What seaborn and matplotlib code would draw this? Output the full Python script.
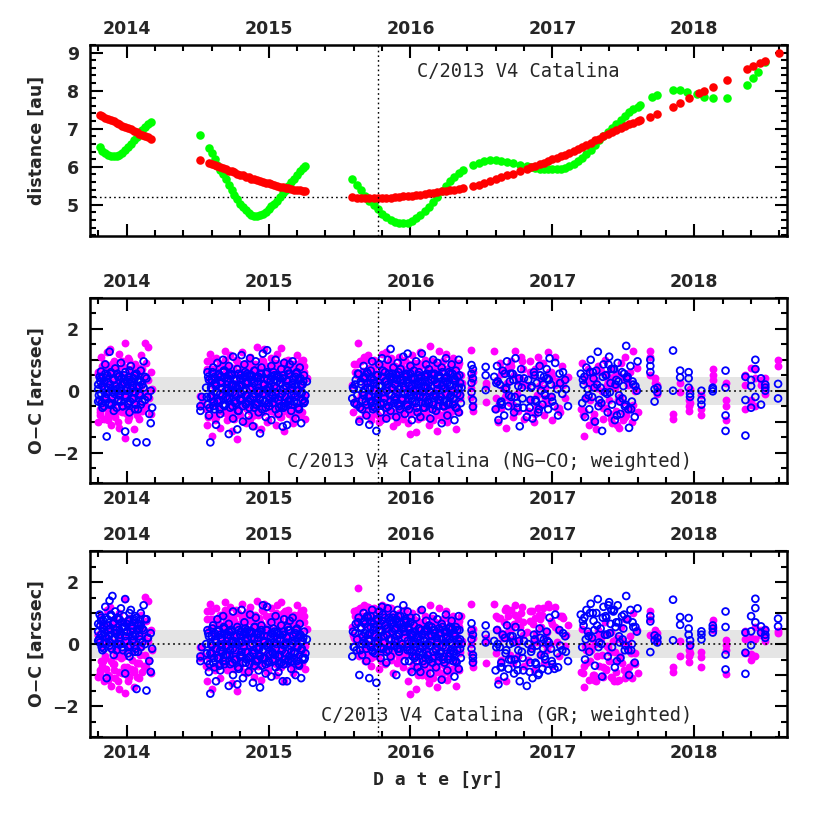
import matplotlib
matplotlib.use("Agg")
import matplotlib.pyplot as plt
from matplotlib.ticker import FixedLocator, MultipleLocator, FuncFormatter
import pandas as pd
import seaborn as sns

# ---------------- distance panel ----------------
# epochs shared by both distance curves (dense parts)
dist_t = [
    2013.81, 2013.83, 2013.85, 2013.87, 2013.89, 2013.91, 2013.93, 2013.95, 2013.97, 2013.99,
    2014.01, 2014.03, 2014.05, 2014.07, 2014.09, 2014.11, 2014.13, 2014.15, 2014.17,
    2014.52,
    2014.58, 2014.60, 2014.62, 2014.64, 2014.66, 2014.68, 2014.70, 2014.72, 2014.74, 2014.76,
    2014.78, 2014.80, 2014.82, 2014.84, 2014.86, 2014.88, 2014.90, 2014.92, 2014.94, 2014.96,
    2014.98, 2015.00, 2015.02, 2015.04, 2015.06, 2015.08, 2015.10, 2015.12, 2015.14, 2015.16,
    2015.18, 2015.20, 2015.22, 2015.24, 2015.26,
    2015.59, 2015.62, 2015.65, 2015.68, 2015.71, 2015.74, 2015.77, 2015.80, 2015.83, 2015.86,
    2015.89, 2015.92, 2015.95, 2015.98, 2016.01, 2016.04, 2016.07, 2016.10, 2016.13, 2016.16,
    2016.19, 2016.22, 2016.25, 2016.28, 2016.31, 2016.34, 2016.37,
    2016.44, 2016.48, 2016.52, 2016.56, 2016.60, 2016.64, 2016.68, 2016.72, 2016.77,
    2016.82, 2016.85, 2016.88, 2016.91, 2016.94, 2016.97, 2017.00, 2017.03, 2017.06, 2017.09,
    2017.12, 2017.15, 2017.18, 2017.21, 2017.24, 2017.27, 2017.30, 2017.33, 2017.36, 2017.39,
    2017.42, 2017.45, 2017.48, 2017.51, 2017.54, 2017.57, 2017.60, 2017.62,
]
# geocentric distance (green)
geo_d = [
    6.51, 6.42, 6.36, 6.32, 6.29, 6.28, 6.29, 6.32, 6.37, 6.44,
    6.52, 6.60, 6.69, 6.78, 6.88, 6.97, 7.05, 7.12, 7.18,
    6.83,
    6.48, 6.35, 6.20, 6.05, 5.92, 5.80, 5.68, 5.53, 5.40, 5.27,
    5.14, 5.03, 4.93, 4.85, 4.78, 4.73, 4.70, 4.70, 4.72, 4.76,
    4.82, 4.89, 4.96, 5.02, 5.10, 5.20, 5.30, 5.39, 5.49, 5.59,
    5.69, 5.79, 5.88, 5.96, 6.03,
    5.67, 5.52, 5.38, 5.24, 5.11, 4.99, 4.88, 4.77, 4.68, 4.60,
    4.55, 4.52, 4.51, 4.53, 4.58, 4.65, 4.74, 4.84, 4.95, 5.07,
    5.20, 5.36, 5.50, 5.62, 5.73, 5.83, 5.91,
    6.04, 6.11, 6.15, 6.17, 6.18, 6.16, 6.13, 6.10, 6.05,
    6.01, 5.98, 5.96, 5.94, 5.93, 5.93, 5.93, 5.93, 5.95, 5.97,
    6.02, 6.08, 6.16, 6.24, 6.34, 6.45, 6.57, 6.69, 6.80, 6.92,
    7.03, 7.13, 7.24, 7.34, 7.43, 7.51, 7.58, 7.62,
]
# heliocentric distance (red)
helio_r = [
    7.36, 7.33, 7.29, 7.26, 7.22, 7.19, 7.15, 7.12, 7.08, 7.05,
    7.01, 6.98, 6.94, 6.91, 6.87, 6.84, 6.80, 6.77, 6.73,
    6.18,
    6.09, 6.07, 6.04, 6.01, 5.98, 5.96, 5.93, 5.90, 5.88, 5.85,
    5.82, 5.79, 5.77, 5.74, 5.72, 5.69, 5.67, 5.65, 5.63, 5.60,
    5.58, 5.56, 5.54, 5.52, 5.50, 5.48, 5.47, 5.45, 5.43, 5.42,
    5.40, 5.39, 5.38, 5.37, 5.36,
    5.20, 5.19, 5.19, 5.18, 5.18, 5.18, 5.18, 5.18, 5.19, 5.19,
    5.20, 5.21, 5.22, 5.23, 5.24, 5.25, 5.27, 5.28, 5.30, 5.31,
    5.33, 5.35, 5.36, 5.38, 5.40, 5.42, 5.44,
    5.49, 5.53, 5.58, 5.63, 5.67, 5.72, 5.77, 5.82, 5.88,
    5.95, 5.99, 6.02, 6.06, 6.10, 6.14, 6.19, 6.23, 6.27, 6.32,
    6.36, 6.42, 6.47, 6.52, 6.57, 6.63, 6.69, 6.74, 6.80, 6.86,
    6.91, 6.96, 7.01, 7.06, 7.11, 7.16, 7.20, 7.23,
]
# sparse late points
geo_t_late = [2017.70, 2017.74, 2017.85, 2017.90, 2017.95, 2018.02, 2018.07, 2018.13,
              2018.23, 2018.37, 2018.41, 2018.45, 2018.50]
geo_d_late = [7.84, 7.89, 8.02, 8.01, 7.96, 7.91, 7.84, 7.80, 7.80, 8.15, 8.32, 8.50, 8.76]
helio_t_late = [2017.69, 2017.74, 2017.85, 2017.90, 2017.96, 2018.03, 2018.07, 2018.13,
                2018.23, 2018.37, 2018.41, 2018.46, 2018.50, 2018.60]
helio_r_late = [7.30, 7.38, 7.58, 7.68, 7.80, 7.93, 8.00, 8.10, 8.28, 8.56, 8.65, 8.72,
                8.79, 9.00]

# ---------------- O-C residuals, same epochs for both fits ----------------
obs_t = [
    # 2013/14
    2013.80, 2013.80, 2013.81, 2013.82, 2013.82, 2013.83, 2013.84, 2013.85, 2013.85, 2013.86,
    2013.87, 2013.88, 2013.88, 2013.89, 2013.90, 2013.91, 2013.91, 2013.92, 2013.93, 2013.94,
    2013.95, 2013.95, 2013.96, 2013.97, 2013.98, 2013.99, 2013.99, 2014.00, 2014.01, 2014.02,
    2014.02, 2014.03, 2014.04, 2014.05, 2014.06, 2014.06, 2014.07, 2014.08, 2014.09, 2014.10,
    2014.10, 2014.11, 2014.12, 2014.13, 2014.14, 2014.14, 2014.15, 2014.16, 2014.17, 2014.18,
    # 2014/15
    2014.52, 2014.52, 2014.53,
    2014.56, 2014.57, 2014.57, 2014.58, 2014.59, 2014.60, 2014.60, 2014.61, 2014.62, 2014.63,
    2014.63, 2014.64, 2014.65, 2014.66, 2014.66, 2014.67, 2014.68, 2014.69, 2014.69, 2014.70,
    2014.71, 2014.72, 2014.72, 2014.73, 2014.74, 2014.75, 2014.75, 2014.76, 2014.77, 2014.78,
    2014.78, 2014.79, 2014.80, 2014.81, 2014.81, 2014.82, 2014.83, 2014.84, 2014.84, 2014.85,
    2014.86, 2014.87, 2014.87, 2014.88, 2014.89, 2014.90, 2014.90, 2014.91, 2014.92, 2014.93,
    2014.93, 2014.94, 2014.95, 2014.96, 2014.96, 2014.97, 2014.98, 2014.99, 2014.99, 2015.00,
    2015.01, 2015.02, 2015.02, 2015.03, 2015.04, 2015.05, 2015.05, 2015.06, 2015.07, 2015.08,
    2015.08, 2015.09, 2015.10, 2015.11, 2015.11, 2015.12, 2015.13, 2015.14, 2015.14, 2015.15,
    2015.16, 2015.17, 2015.17, 2015.18, 2015.19, 2015.20, 2015.20, 2015.21, 2015.22, 2015.23,
    2015.23, 2015.24, 2015.25, 2015.26, 2015.27,
    # 2015/16
    2015.59, 2015.60, 2015.61, 2015.62, 2015.63, 2015.64, 2015.65, 2015.66, 2015.67, 2015.67,
    2015.68, 2015.69, 2015.70, 2015.71, 2015.72, 2015.72, 2015.73, 2015.74, 2015.75, 2015.76,
    2015.77, 2015.77, 2015.78, 2015.79, 2015.80, 2015.80, 2015.81, 2015.82, 2015.83, 2015.83,
    2015.84, 2015.85, 2015.86, 2015.86, 2015.87, 2015.88, 2015.89, 2015.89, 2015.90, 2015.91,
    2015.92, 2015.92, 2015.93, 2015.94, 2015.95, 2015.95, 2015.96, 2015.97, 2015.98, 2015.98,
    2015.99, 2016.00, 2016.01, 2016.01, 2016.02, 2016.03, 2016.04, 2016.04, 2016.05, 2016.06,
    2016.07, 2016.07, 2016.08, 2016.09, 2016.10, 2016.10, 2016.11, 2016.12, 2016.13, 2016.13,
    2016.14, 2016.15, 2016.16, 2016.16, 2016.17, 2016.18, 2016.19, 2016.19, 2016.20, 2016.21,
    2016.22, 2016.22, 2016.23, 2016.24, 2016.25, 2016.25, 2016.26, 2016.27, 2016.28, 2016.28,
    2016.29, 2016.30, 2016.31, 2016.31, 2016.32, 2016.33, 2016.34, 2016.34, 2016.35, 2016.36,
    # mid 2016
    2016.43, 2016.43, 2016.43, 2016.43, 2016.44, 2016.44, 2016.44, 2016.44,
    2016.53, 2016.53, 2016.53,
    2016.59, 2016.60, 2016.61, 2016.62, 2016.63, 2016.64, 2016.65, 2016.66, 2016.67, 2016.68,
    2016.69, 2016.70, 2016.71, 2016.72, 2016.73, 2016.74, 2016.75, 2016.76, 2016.77, 2016.78,
    2016.79, 2016.80,
    2016.82, 2016.83, 2016.84, 2016.85, 2016.86, 2016.87, 2016.88, 2016.89, 2016.90, 2016.91,
    2016.92, 2016.93, 2016.94, 2016.95, 2016.96, 2016.97, 2016.98, 2016.99, 2017.00, 2017.02,
    2017.04, 2017.05, 2017.07, 2017.09, 2017.11,
    # 2017
    2017.20, 2017.21, 2017.22, 2017.23, 2017.24, 2017.25, 2017.26, 2017.27, 2017.28, 2017.29,
    2017.30, 2017.31, 2017.32, 2017.33, 2017.34, 2017.35, 2017.36, 2017.37, 2017.38, 2017.39,
    2017.40, 2017.41, 2017.42, 2017.43, 2017.44, 2017.45, 2017.46, 2017.47, 2017.48, 2017.49,
    2017.50, 2017.51, 2017.52, 2017.53, 2017.54, 2017.55, 2017.56, 2017.57, 2017.58, 2017.60,
    # late, sparse
    2017.69, 2017.69, 2017.69, 2017.72, 2017.72, 2017.74, 2017.74, 2017.85, 2017.85,
    2017.90, 2017.90, 2017.96, 2017.96, 2017.96, 2017.97, 2017.97,
    2018.05, 2018.05, 2018.05, 2018.13, 2018.13, 2018.13, 2018.22, 2018.22, 2018.22, 2018.22,
    2018.36, 2018.36, 2018.36, 2018.40, 2018.40, 2018.40, 2018.43, 2018.43, 2018.43,
    2018.47, 2018.47, 2018.50, 2018.50, 2018.50, 2018.59, 2018.59,
]

# NG-CO solution: magenta = RA residuals, blue = Dec residuals
ng_ra = [
    -1.00, 0.55, -0.60, 1.10, -0.30, 0.80, -0.90, 0.40, -0.20, 1.25,
    -0.75, 0.15, 1.35, -1.10, 0.65, -0.40, 0.95, -0.85, 0.30, -0.05,
    1.20, -1.20, 0.50, -0.70, -0.15, -1.54, 1.55, 0.25, -0.95, 0.70,
    1.00, -0.55, 0.35, -1.25, 0.85, 0.10, -0.80, 0.60, -0.35, 1.15,
    0.20, -0.65, 0.45, 1.55, -0.50, 0.90, 1.42, -0.25, 0.60, 0.05,
    -0.17, -0.50, -0.40,
    -0.60, 0.95, -1.10, 0.40, 1.20, -0.30, -1.48, 0.70, 0.15, -0.85,
    1.05, -0.45, 0.55, -1.20, 0.25, 0.85, -0.70, 1.30, -0.10, 0.60,
    -0.95, 0.35, -0.40, 1.15, -1.30, 0.10, 0.75, -0.65, 1.00, -0.20,
    -1.57, 0.50, -0.80, 0.20, 1.25, -0.35, 0.65, -1.05, 0.90, -0.55,
    0.30, -0.90, 1.10, -0.25, 0.80, -1.15, 0.45, -0.60, 1.42, 0.05,
    -0.75, 0.60, -1.25, 0.95, -0.05, 1.35, -0.45, 0.25, -1.00, 0.70,
    0.40, -0.65, 1.05, -0.30, 0.80, -1.10, 0.15, 1.20, -0.50, 0.55,
    -0.85, 1.37, -0.20, 0.45, -1.30, 0.90, -0.40, 0.10, 1.00, -0.70,
    0.65, -1.05, 0.30, 0.85, -0.55, 1.15, -0.15, 0.50, -0.80, 0.20,
    0.95, -0.35, 0.60, -0.90, 0.40,
    0.20, -0.35, 0.60, 0.85, 1.55, -0.50, 0.95, -0.20, 0.35, 1.10,
    -0.75, 0.50, 1.15, -0.30, 0.70, -0.95, 0.25, 1.00, -0.60, 0.40,
    -0.10, 0.90, -1.00, 0.55, 1.20, -0.45, 0.30, -0.85, 0.75, 1.25,
    -0.25, 0.65, -0.70, 1.05, 0.10, -1.15, 0.80, -0.40, 0.45, -0.05,
    1.10, -0.65, 0.35, 0.95, -0.90, 0.20, -0.35, 0.70, -1.05, 0.55,
    0.85, -1.40, 0.30, 1.15, -0.55, 0.60, -0.20, -1.35, 0.90, -0.75,
    0.45, 1.25, -0.85, 0.15, -0.45, 1.00, -0.15, 0.65, -1.10, 0.30,
    1.45, -0.60, 0.50, -0.95, 0.85, 0.05, -1.30, 0.70, 1.30, -0.35,
    0.20, -0.80, 0.95, 0.40, -0.50, 1.20, -1.00, 0.55, -0.25, 0.80,
    -0.65, 1.05, -0.40, 0.60, -1.25, 0.35, -0.70, 0.90, -0.10, 0.25,
    1.31, 0.10, -0.20, 0.45, 0.30, -0.45, 0.60, -0.65,
    0.25, -0.38, 0.15,
    1.30, -0.25, 0.35, -1.00, 0.90, -0.55, 0.10, 0.60, -1.20, 0.25,
    0.75, -0.40, 0.95, -0.85, 0.50, 1.30, -0.10, -0.65, 0.40, 1.10,
    0.20, -0.90,
    0.20, -0.65, 0.95, -0.30, 0.50, -1.00, 0.70, -0.15, 1.10, -0.50,
    0.35, 0.85, -0.80, 0.10, -0.40, 1.26, -0.20, 0.60, -0.95, 1.10,
    0.30, -0.55, 0.80, -0.25, 0.45,
    -0.60, 0.90, -1.45, 0.30, -0.20, 0.70, -1.10, 0.15, 0.50, -0.75,
    0.35, -1.25, 0.80, -0.40, 0.65, 0.00, -0.90, 1.00, -0.55, 0.25,
    -0.30, 0.75, -1.05, 0.45, 0.10, -0.65, 0.55, -1.20, 0.90, -0.35,
    0.40, 1.10, -0.80, 0.20, -0.50, 0.60, -1.00, 1.30, 0.05, -0.70,
    1.30, 1.10, 0.50, 0.25, 0.40, 0.20, -0.10, -0.75, -0.90,
    0.25, -0.05, -0.50, -0.65, -0.30, 0.05, -0.40,
    -0.80, -0.60, -0.15, 0.70, 0.35, 0.50, -0.50, -0.30, -0.95, 0.25,
    0.50, 0.20, -0.60, -0.30, 0.75, -0.45, 0.70, 0.40, -0.50,
    0.20, 0.35, 0.40, 0.15, -0.10, 1.00, 0.80,
]
ng_dec = [
    0.20, -0.35, 0.45, -0.10, 0.62, -0.55, 0.30, -0.20, 0.85, -1.48,
    0.10, 1.26, -0.45, 0.55, -0.05, 0.38, -0.65, 0.72, 0.05, -0.30,
    0.48, -0.15, 0.90, -0.50, 0.25, -1.32, 0.60, 0.00, -0.40, 0.35,
    -0.70, 0.80, 0.15, -0.25, 0.50, -0.60, -1.67, 0.30, -0.10, 0.65,
    -0.45, 0.20, 0.95, -0.30, -1.67, 0.40, -0.20, -0.75, -1.05, -0.55,
    -0.65, -0.50, -0.20,
    0.10, -0.45, 0.60, -0.80, -1.67, 0.35, -0.15, 0.75, -0.60, 0.20,
    -1.10, 0.90, -0.30, 0.45, -0.75, 0.05, 1.00, -0.50, 0.65, -0.20,
    0.30, -1.40, 0.80, -0.05, 0.50, -0.90, 1.10, -0.35, 0.15, -1.25,
    0.70, -0.65, 0.40, 1.15, -0.10, -1.00, 0.85, 0.25, -0.45, 0.55,
    -0.80, 1.05, -0.25, 0.35, -1.15, 0.65, -0.55, 0.95, 0.00, -0.70,
    0.45, -1.38, 0.75, -0.30, 1.20, 0.20, -0.85, 0.60, 1.31, -0.40,
    0.10, -0.95, 0.80, -0.15, 0.50, -0.60, 1.00, 0.30, -0.75, 0.40,
    -0.20, 0.70, -1.16, 0.90, -0.50, 0.15, -1.11, 0.55, -0.35, 0.85,
    -0.65, 0.25, 0.95, -0.10, -0.90, 0.60, -0.40, 0.35, 0.75, -1.05,
    0.20, -0.30, 0.50, -0.15, 0.30,
    -0.25, 0.05, 0.20, -0.45, 0.55, -1.00, 0.30, -0.60, 0.80, -0.15,
    0.40, -0.80, 0.10, -1.10, 0.65, -0.35, 0.95, 0.25, -0.55, -1.30,
    0.50, -0.20, 0.85, -0.70, 0.15, 1.05, -0.40, 0.60, -0.90, 0.30,
    1.00, -0.10, 1.35, -0.65, 0.45, 0.75, -0.30, 0.20, -0.85, 0.90,
    0.05, -0.50, 0.70, -0.25, 1.10, 0.35, -0.75, 0.55, 1.20, -0.05,
    -0.60, 0.80, 0.15, -0.95, 0.40, -0.35, 0.95, 0.00, -0.70, 0.60,
    0.25, -0.85, 1.20, -0.20, 0.50, -0.55, 0.85, 0.10, -0.40, 0.70,
    -0.90, 0.35, 1.00, -0.15, 0.55, -0.65, 0.20, 0.90, -0.30, 0.45,
    -1.05, 0.75, 0.05, -0.50, 1.05, 0.30, -0.80, 0.60, -0.20, 0.15,
    0.85, -0.45, 0.40, -0.95, 0.65, -0.10, 1.00, -0.70, 0.25, 0.10,
    0.83, 0.55, 0.25, -0.05, 0.70, 0.40, -0.30, -0.52,
    0.77, 0.50, 0.02,
    0.45, -0.60, 0.80, -0.95, 0.20, -0.35, 0.65, -0.80, 0.05, 0.95,
    -0.50, 0.30, -0.20, 0.55, -0.70, 1.05, -0.40, 0.15, -1.15, 0.70,
    -0.25, 0.40,
    -0.85, 0.35, -0.55, 0.10, -0.90, 0.60, -0.30, 0.25, -0.70, 0.80,
    0.00, -0.45, 0.45, -0.15, 0.70, -0.60, 1.05, 0.20, -0.35, 0.90,
    -0.80, 0.55, -0.10, 0.35, -0.50,
    0.55, -0.40, 0.20, -0.85, 0.75, 0.05, -0.60, 1.00, -0.20, 0.40,
    -1.00, 0.65, 1.26, -0.30, 0.10, -1.30, 0.85, -0.05, 0.50, -0.70,
    1.10, 0.25, -0.45, 0.70, -0.95, 0.35, 0.90, -0.15, -0.75, 0.60,
    0.15, -0.50, 1.45, 0.45, -1.20, 0.80, -0.35, 0.20, -0.85, 0.95,
    0.80, 0.60, 1.00, 0.05, -0.35, 0.10, -0.05, 1.30, 0.00,
    0.65, 0.43, 0.60, 0.40, 0.10, -0.20, -0.10,
    0.00, -0.30, -0.45, 0.10, -0.02, 0.05, 0.65, 0.10, -0.80, -1.30,
    0.45, -0.30, -1.45, 0.15, -0.55, 0.35, 1.00, 0.70, -0.20,
    0.40, -0.45, 0.20, 0.00, 0.10, 0.22, -0.25,
]

# GR solution
gr_ra = [
    -1.05, 0.30, -0.85, 0.90, -0.55, 0.65, -1.20, 0.20, -0.45, 1.10,
    -1.00, 0.05, 1.20, -1.35, 0.45, -0.65, 0.80, -1.10, 0.10, -0.30,
    1.00, -1.45, 0.35, -0.95, -0.40, -1.58, 1.45, 0.05, -1.20, 0.50,
    0.85, -0.80, 0.15, -1.40, 0.70, -0.10, -1.05, 0.40, -0.60, 0.95,
    0.00, -0.90, 0.30, 1.52, -0.75, 0.75, 1.38, -0.50, 0.45, -0.20,
    -0.10, -0.45, -0.35,
    -0.70, 1.05, -1.20, 0.50, 1.30, -0.20, -1.45, 0.80, 0.25, -0.75,
    1.15, -0.35, 0.65, -1.10, 0.35, 0.95, -0.60, 1.35, 0.00, 0.70,
    -0.85, 0.45, -0.30, 1.20, -1.25, 0.20, 0.85, -0.55, 1.10, -0.10,
    -1.50, 0.60, -0.70, 0.30, 1.30, -0.25, 0.75, -0.95, 1.00, -0.45,
    0.40, -0.80, 1.20, -0.15, 0.90, -1.05, 0.55, -0.50, 1.40, 0.15,
    -0.65, 0.70, -1.15, 1.05, 0.05, 1.30, -0.35, 0.35, -0.90, 0.80,
    0.50, -0.55, 1.15, -0.20, 0.90, -1.00, 0.25, 1.25, -0.40, 0.65,
    -0.75, 1.35, -0.10, 0.55, -1.20, 1.00, -0.30, 0.20, 1.10, -0.60,
    0.75, -0.95, 0.40, 0.95, -0.45, 1.25, -0.05, 0.60, -0.70, 0.30,
    1.05, -0.25, 0.70, -0.80, 0.50,
    0.55, 0.20, 0.90, 1.10, 1.80, -0.30, 1.15, 0.10, 0.65, 1.25,
    -0.55, 0.80, 1.20, 0.00, 0.95, -0.70, 0.50, 1.15, -0.40, 0.70,
    0.15, 1.05, -0.80, 0.80, 1.25, -0.25, 0.55, -0.65, 0.95, 1.20,
    0.00, 0.85, -0.50, 1.15, 0.30, -0.95, 0.95, -0.20, 0.65, 0.20,
    1.00, -0.45, 0.50, 1.05, -0.75, 0.35, -0.30, 0.60, -1.20, 0.40,
    0.70, -1.60, 0.10, 1.00, -0.70, 0.45, -0.35, -1.45, 0.75, -0.90,
    0.30, 1.10, -1.00, 0.00, -0.60, 0.90, -0.30, 0.50, -1.25, 0.15,
    1.25, -0.75, 0.35, -1.10, 0.70, -0.10, -1.40, 0.55, 1.15, -0.50,
    0.05, -0.95, 0.80, 0.25, -0.65, 1.05, -1.15, 0.40, -0.40, 0.65,
    -0.80, 0.90, -0.55, 0.45, -1.35, 0.20, -0.85, 0.75, -0.25, 0.10,
    1.30, 0.00, -0.30, 0.35, 0.20, -0.55, 0.50, -0.75,
    0.20, -0.60, 0.10,
    1.30, -0.30, 0.50, -1.15, 0.85, -0.50, 0.20, 0.70, -1.20, 0.35,
    0.90, -0.35, 1.10, -0.60, 0.65, 1.25, 0.05, -0.40, 0.55, 1.00,
    0.30, -0.70,
    0.40, -0.50, 1.05, -0.10, 0.65, -0.85, 0.85, 0.05, 1.15, -0.35,
    0.55, 0.95, -0.60, 0.25, -0.20, 1.30, 0.00, 0.75, -0.70, 1.20,
    0.45, -0.40, 0.90, -0.05, 0.60,
    -0.90, 0.50, -1.40, -0.05, -0.60, 0.35, -1.15, -0.20, 0.15, -1.00,
    0.00, -1.20, 0.45, -0.70, 0.30, -0.35, -1.05, 0.70, -0.80, -0.10,
    -0.55, 0.40, -1.10, 0.10, -0.25, -0.90, 0.20, -1.15, 0.55, -0.60,
    0.05, 0.80, -1.00, -0.15, -0.75, 0.25, -1.10, 1.00, -0.30, -0.95,
    1.08, 0.80, 0.30, 0.45, 0.20, 0.35, 0.10, -0.90, -0.75,
    -0.37, 0.10, -0.37, -0.58, -0.20, 0.00, -0.30,
    -0.26, -0.42, -0.74, 0.76, 0.44, 0.55, 0.12, -0.04, -0.96, -0.20,
    0.41, 0.17, -0.28, -0.53, -0.31, 0.20, 0.17, -0.37, 0.55,
    0.28, 0.45, 0.50, 0.30, 0.10, 0.37, 0.41,
]
gr_dec = [
    0.65, 0.10, 0.95, 0.30, 0.85, -0.20, 0.60, 0.25, 1.20, -1.10,
    0.45, 1.40, 0.05, 0.90, 1.55, 0.70, -0.35, 1.05, 0.35, 0.00,
    0.80, 0.20, 1.15, -0.10, 0.55, -0.95, 1.45, 0.40, -0.30, 0.75,
    -0.40, 1.10, 0.50, 0.15, 0.90, -0.25, -1.45, 0.60, 0.25, 1.00,
    -0.10, 0.50, 1.25, 0.00, -1.50, 0.80, 0.20, -0.55, -0.90, -0.15,
    -0.55, -0.40, -0.10,
    0.00, -0.55, 0.45, -0.90, -1.60, 0.25, -0.30, 0.60, -0.75, 0.10,
    -1.20, 0.80, -0.45, 0.30, -0.85, -0.10, 0.90, -0.65, 0.50, -0.35,
    0.20, -1.35, 0.65, -0.20, 0.40, -1.00, 1.05, -0.50, 0.05, -1.30,
    0.55, -0.80, 0.30, 1.10, -0.25, -1.10, 0.70, 0.10, -0.60, 0.45,
    -0.90, 0.95, -0.40, 0.20, -1.25, 0.55, -0.70, 0.85, -0.15, -0.85,
    0.35, -1.40, 0.60, -0.45, 1.25, 0.05, -0.95, 0.45, 1.20, -0.55,
    0.00, -1.05, 0.70, -0.30, 0.40, -0.75, 0.90, 0.15, -0.90, 0.30,
    -0.35, 0.60, -1.20, 0.80, -0.65, 0.00, -1.20, 0.45, -0.50, 0.75,
    -0.80, 0.10, 0.85, -0.25, -1.00, 0.50, -0.55, 0.20, 0.65, -1.10,
    0.10, -0.45, 0.40, -0.30, 0.15,
    -0.40, -0.10, 0.35, -0.20, 0.70, -1.00, 0.55, -0.35, 1.00, 0.10,
    0.65, -0.55, 0.30, -1.10, 0.90, -0.10, 1.10, 0.45, -0.30, -1.25,
    0.75, 0.05, 1.05, -0.45, 0.40, 1.20, -0.15, 0.85, -0.60, 0.50,
    1.15, 0.15, 1.50, -0.40, 0.70, 0.95, -0.05, 0.45, -1.00, 1.10,
    0.30, -0.25, 0.90, 0.00, 1.25, 0.50, -0.55, 0.70, 1.05, 0.10,
    -0.55, 0.70, 0.05, -0.90, 0.30, -0.45, 0.85, -0.10, -0.75, 0.50,
    0.15, -0.90, 1.10, -0.30, 0.40, -0.65, 0.75, 0.00, -0.50, 0.60,
    -0.95, 0.25, 0.90, -0.25, 0.45, -0.75, 0.10, 0.80, -0.40, 0.35,
    -1.15, 0.65, -0.05, -0.60, 0.95, 0.20, -0.85, 0.50, -0.30, 0.05,
    0.75, -0.55, 0.30, -1.05, 0.55, -0.20, 0.90, -0.80, 0.15, 0.00,
    0.67, 0.45, 0.15, -0.15, 0.30, -0.35, -0.45, -0.60,
    0.60, 0.30, 0.05,
    0.10, -0.85, 0.45, -1.30, -0.10, -0.60, 0.30, -1.05, -0.30, 0.60,
    -0.80, 0.00, -0.50, 0.25, -0.95, 0.55, -0.65, -0.20, -1.20, 0.35,
    -0.45, 0.10,
    -1.35, 0.00, -0.90, -0.25, -1.10, 0.30, -0.60, -0.05, -1.00, 0.50,
    -0.35, -0.80, 0.15, -0.50, 0.40, -0.85, 0.85, -0.15, -0.65, 0.95,
    -0.75, 0.45, -0.20, 0.25, -0.55,
    0.95, -0.10, 0.60, -0.50, 1.10, 0.40, -0.25, 1.30, 0.20, 0.75,
    -0.70, 1.00, 1.45, 0.05, 0.50, -1.05, 1.20, 0.30, 0.85, -0.40,
    1.35, 0.65, -0.10, 1.05, -0.75, 0.70, 1.25, 0.25, -0.45, 0.90,
    0.50, -0.20, 1.55, 0.80, -1.00, 1.10, 0.00, 0.55, -0.60, 1.15,
    0.90, 0.73, -0.26, 0.28, 0.12, 0.20, 0.05, 1.43, 0.12,
    0.87, 0.62, 0.84, 0.50, 0.30, 0.12, -0.05,
    0.41, 0.30, 0.15, 0.60, 0.50, 0.37, 1.05, 0.55, -0.34, -0.82,
    0.37, -0.28, -0.96, 0.90, 0.41, -0.04, 1.46, 1.16, 0.70,
    0.57, 0.37, 0.45, 0.30, 0.20, 0.82, 0.57,
]

# extra observations packed into the crowded cores of each apparition
core_t = [
    2013.80, 2013.81, 2013.82, 2013.83, 2013.84, 2013.85, 2013.86, 2013.87, 2013.88, 2013.89,
    2013.90, 2013.91, 2013.92, 2013.93, 2013.94, 2013.95, 2013.96, 2013.97, 2013.98, 2013.99,
    2014.00, 2014.01, 2014.02, 2014.03, 2014.04, 2014.05, 2014.06, 2014.07, 2014.08, 2014.09,
    2014.10, 2014.11, 2014.12, 2014.13, 2014.15, 2014.17,
    2014.565, 2014.575, 2014.585, 2014.595, 2014.605, 2014.615, 2014.625, 2014.635, 2014.645,
    2014.655, 2014.665, 2014.675, 2014.685, 2014.695, 2014.705, 2014.715, 2014.725, 2014.735,
    2014.745, 2014.755, 2014.765, 2014.775, 2014.785, 2014.795, 2014.805, 2014.815, 2014.825,
    2014.835, 2014.845, 2014.855, 2014.865, 2014.875, 2014.885, 2014.895, 2014.905, 2014.915,
    2014.925, 2014.935, 2014.945, 2014.955, 2014.965, 2014.975, 2014.985, 2014.995, 2015.005,
    2015.015, 2015.025, 2015.035, 2015.045, 2015.055, 2015.065, 2015.075, 2015.085, 2015.095,
    2015.105, 2015.115, 2015.125, 2015.135, 2015.145, 2015.155, 2015.165, 2015.175, 2015.185,
    2015.195, 2015.205, 2015.215, 2015.225, 2015.235, 2015.245, 2015.255,
    2014.745, 2014.805, 2014.865, 2014.925, 2014.985, 2015.045, 2015.105, 2015.165, 2014.685,
    2014.895,
    2015.595, 2015.605, 2015.615, 2015.625, 2015.635, 2015.645, 2015.655, 2015.665, 2015.675,
    2015.685, 2015.695, 2015.705, 2015.715, 2015.725, 2015.735, 2015.745, 2015.755, 2015.765,
    2015.775, 2015.785, 2015.795, 2015.805, 2015.815, 2015.825, 2015.835, 2015.845, 2015.855,
    2015.865, 2015.875, 2015.885, 2015.895, 2015.905, 2015.915, 2015.925, 2015.935, 2015.945,
    2015.955, 2015.965, 2015.975, 2015.985, 2015.995, 2016.005, 2016.015, 2016.025, 2016.035,
    2016.045, 2016.055, 2016.065, 2016.075, 2016.085, 2016.095, 2016.105, 2016.115, 2016.125,
    2016.135, 2016.145, 2016.155, 2016.165, 2016.175, 2016.185, 2016.195, 2016.205, 2016.215,
    2016.225, 2016.235, 2016.245, 2016.255, 2016.265, 2016.275, 2016.285, 2016.295, 2016.305,
    2016.315, 2016.325, 2016.335, 2016.345, 2016.355, 2015.905, 2016.005, 2016.105,
    2016.605, 2016.635, 2016.665, 2016.695, 2016.725, 2016.755, 2016.785,
    2016.845, 2016.875, 2016.905, 2016.935, 2016.965, 2016.995, 2017.035, 2017.075,
    2017.215, 2017.235, 2017.265, 2017.295, 2017.325, 2017.355, 2017.385, 2017.415, 2017.445,
    2017.475, 2017.505, 2017.535, 2017.565, 2017.595, 2017.455,
    # second pass over the cores
    2013.805, 2013.815, 2013.825, 2013.835, 2013.845, 2013.855, 2013.865, 2013.875, 2013.885,
    2013.895, 2013.905, 2013.915, 2013.925, 2013.935, 2013.945, 2013.955, 2013.965, 2013.975,
    2013.985, 2013.995, 2014.005, 2014.015, 2014.025, 2014.035, 2014.045, 2014.055, 2014.065,
    2014.075, 2014.085, 2014.095,
    2014.58, 2014.59, 2014.60, 2014.61, 2014.62, 2014.63, 2014.64, 2014.65, 2014.66, 2014.67,
    2014.68, 2014.69, 2014.70, 2014.71, 2014.72, 2014.73, 2014.74, 2014.75, 2014.76, 2014.77,
    2014.78, 2014.79, 2014.80, 2014.81, 2014.82, 2014.83, 2014.84, 2014.85, 2014.86, 2014.87,
    2014.88, 2014.89, 2014.90, 2014.91, 2014.92, 2014.93, 2014.94, 2014.95, 2014.96, 2014.97,
    2014.98, 2014.99, 2015.00, 2015.01, 2015.02, 2015.03, 2015.04, 2015.05, 2015.06, 2015.07,
    2015.08, 2015.09, 2015.10, 2015.11, 2015.12, 2015.13, 2015.14, 2015.15, 2015.16, 2015.17,
    2015.18, 2015.19, 2015.20, 2015.21, 2015.22, 2015.23, 2015.24, 2015.25, 2014.835, 2014.935,
    2015.66, 2015.67, 2015.68, 2015.69, 2015.70, 2015.71, 2015.72, 2015.73, 2015.74, 2015.75,
    2015.76, 2015.77, 2015.78, 2015.79, 2015.80, 2015.81, 2015.82, 2015.83, 2015.84, 2015.85,
    2015.86, 2015.87, 2015.88, 2015.89, 2015.90, 2015.91, 2015.92, 2015.93, 2015.94, 2015.95,
    2015.96, 2015.97, 2015.98, 2015.99, 2016.00, 2016.01, 2016.02, 2016.03, 2016.04, 2016.05,
    2016.06, 2016.07, 2016.08, 2016.09, 2016.10, 2016.11, 2016.12, 2016.13, 2016.14, 2016.15,
    2016.16, 2016.17, 2016.18, 2016.19, 2016.20, 2016.21, 2016.22, 2016.23, 2016.24, 2016.25,
    2016.26, 2016.27, 2016.28, 2016.29, 2016.30, 2016.31, 2016.32, 2016.33, 2016.34, 2016.35,
    2016.615, 2016.645, 2016.675, 2016.705, 2016.735, 2016.765, 2016.795,
    2016.855, 2016.885, 2016.915, 2016.945, 2016.975, 2017.015, 2017.055, 2017.095,
    2017.225, 2017.255, 2017.285, 2017.315, 2017.345, 2017.375, 2017.405, 2017.435, 2017.465,
    2017.495, 2017.525, 2017.555, 2017.585, 2017.395, 2017.515,
]
core_ng_ra = [
    0.60, -0.80, 0.20, -0.45, 0.90, -0.15, 0.70, -0.95, 0.35, -0.30,
    0.85, -0.60, 0.10, 0.75, -1.00, 0.45, -0.20, 0.95, -0.70, 0.25,
    -0.50, 1.05, -0.85, 0.40, 0.00, -0.65, 0.80, -0.35, 0.55, -0.90,
    0.15, 0.70, -0.45, -0.10, 0.35, -0.75,
    0.70, -0.85, 0.35, 0.95, -0.40, 0.15, -0.95, 0.60, -0.20, 0.85,
    -0.65, 0.40, -0.05, 1.00, -0.75, 0.25, 0.80, -0.50, 0.10, -0.90,
    0.55, -0.30, 0.90, -0.60, 0.20, 0.75, -1.00, 0.45, -0.15, 0.65,
    0.95, -0.70, 0.30, -0.35, 0.85, 0.05, -0.80, 0.50, -0.45, 1.00,
    -0.55, 0.20, 0.80, -0.95, 0.40, -0.10, 0.70, -0.65, 0.15, 0.90,
    -0.30, 0.60, -0.85, 0.35, -0.05, 0.95, -0.50, 0.25, -0.75, 0.55,
    0.10, -0.90, 0.65, -0.20, 0.85, -0.45, 0.30, -0.70, 1.00, -0.15,
    -0.60, 0.45, -0.95, 0.75, 0.00, -0.40, 0.90, -0.25, 0.50, -0.80,
    -0.70, 0.85, -0.30, 0.50, -0.90, 0.95, -0.15, 0.65, -0.60, 0.30,
    1.00, -0.45, 0.75, -0.85, 0.10, 0.60, -0.70, 0.90, -0.25, 0.40,
    -0.95, 0.55, -0.10, 0.85, -0.55, 0.20, 0.95, -0.80, 0.35, -0.40,
    0.70, -1.00, 0.45, -0.20, 0.80, -0.65, 0.15, 1.00, -0.35, 0.55,
    -0.75, 0.25, -0.50, 0.90, -0.05, 0.65, -0.90, 0.40, -0.30, 0.85,
    -0.60, 0.05, 0.75, -0.85, 0.50, -0.15, 0.95, -0.45, 0.30, -0.70,
    0.60, -0.25, 0.85, -0.95, 0.20, -0.55, 0.70, 0.00, -0.80, 0.45,
    0.90, -0.40, 0.15, -0.65, 0.80, -0.10, 0.50, -0.85, 0.35, -0.20,
    -0.60, 0.55, -0.20, 0.80, -0.45, 0.30, 0.95,
    0.60, -0.75, 0.15, 0.90, -0.35, 0.45, -0.55, 0.20,
    -0.80, 0.40, -0.30, -1.00, 0.60, -0.55, 0.20, -0.90, 0.50,
    -0.20, -0.70, 0.30, -0.45, 0.75, -1.10,
    0.45, -0.70, 0.15, -0.30, 0.75, -0.55, 0.30, 0.60, -0.80, 0.05,
    -0.40, 0.70, -0.15, 0.50, -0.65, 0.25, -0.05, 0.80, -0.45, 0.35,
    -0.75, 0.10, 0.55, -0.25, 0.65, -0.60, 0.20, -0.35, 0.75, -0.10,
    -0.55, 0.70, -0.20, 0.45, -0.80, 0.15, 0.60, -0.40, 0.80, -0.05,
    0.35, -0.65, 0.75, -0.30, 0.10, -0.75, 0.50, -0.15, 0.65, -0.50,
    0.25, -0.70, 0.55, -0.10, 0.80, -0.35, 0.40, -0.60, 0.05, 0.70,
    -0.45, 0.30, -0.80, 0.60, -0.20, 0.75, -0.55, 0.15, -0.70, 0.45,
    0.00, -0.40, 0.65, -0.25, 0.80, -0.60, 0.20, -0.75, 0.50, -0.10,
    0.70, -0.35, 0.35, -0.65, 0.55, -0.05, 0.75, -0.50, 0.25, -0.80,
    0.60, -0.15, 0.45, -0.70, 0.10, 0.65, -0.30, 0.80, -0.45, 0.30,
    0.60, -0.45, 0.20, -0.75, 0.70, -0.10, 0.45, -0.60, 0.80, -0.30,
    0.05, -0.80, 0.55, -0.20, 0.75, -0.50, 0.30, -0.65, 0.65, 0.10,
    -0.40, 0.80, -0.70, 0.25, -0.15, 0.60, -0.55, 0.40, -0.80, 0.70,
    -0.25, 0.50, -0.05, 0.75, -0.60, 0.15, -0.45, 0.65, -0.70, 0.35,
    -0.20, 0.80, -0.50, 0.05, 0.55, -0.75, 0.30, -0.35, 0.70, -0.10,
    0.45, -0.65, 0.20, -0.80, 0.60, -0.30, 0.75, -0.15, 0.40, -0.55,
    0.10, -0.70, 0.65, -0.40, 0.80, -0.05, 0.35, -0.60, 0.50, -0.25,
    -0.50, 0.65, -0.15, 0.80, -0.65, 0.35, 0.70,
    0.50, -0.55, 0.85, -0.25, 0.60, 0.20, -0.70, 0.40,
    -0.65, 0.25, -0.90, 0.10, -0.40, 0.55, -0.75, 0.15, -0.30,
    -0.95, 0.45, -0.60, 0.00, 0.30, -0.85,
]
core_ng_dec = [
    0.05, -0.30, 0.40, 0.15, -0.50, 0.55, -0.10, 0.25, -0.40, 0.60,
    -0.20, 0.35, 0.00, -0.55, 0.45, 0.10, -0.35, 0.20, 0.50, -0.15,
    0.30, -0.45, 0.65, 0.05, -0.25, 0.40, -0.05, 0.55, -0.60, 0.15,
    0.30, -0.35, 0.10, 0.45, -0.20, 0.00,
    -0.20, 0.45, -0.55, 0.10, 0.60, -0.35, 0.25, -0.05, 0.50, -0.60,
    0.30, -0.15, 0.65, -0.45, 0.05, 0.40, -0.25, 0.55, -0.50, 0.20,
    -0.10, 0.35, -0.65, 0.15, 0.50, -0.30, 0.00, 0.60, -0.40, 0.25,
    -0.55, 0.45, 0.10, -0.20, 0.65, -0.45, 0.30, -0.05, 0.40, -0.60,
    0.20, -0.35, 0.55, 0.00, -0.50, 0.35, -0.15, 0.60, -0.25, 0.10,
    0.45, -0.55, 0.25, -0.10, 0.50, -0.40, 0.15, 0.65, -0.30, 0.05,
    -0.45, 0.35, -0.20, 0.55, 0.00, -0.60, 0.40, -0.05, 0.30, -0.35,
    0.15, -0.25, 0.50, -0.40, 0.05, 0.35, -0.55, 0.20, 0.60, -0.10,
    0.10, -0.40, 0.35, -0.15, 0.55, -0.55, 0.20, -0.05, 0.45, -0.35,
    0.60, -0.20, 0.05, 0.40, -0.60, 0.25, -0.30, 0.50, -0.10, 0.15,
    -0.45, 0.65, -0.25, 0.30, 0.00, -0.50, 0.45, -0.15, 0.55, -0.40,
    0.20, -0.05, 0.60, -0.60, 0.35, -0.25, 0.10, 0.50, -0.45, 0.25,
    -0.15, 0.40, -0.35, 0.65, 0.05, -0.55, 0.30, -0.20, 0.45, -0.05,
    0.15, -0.40, 0.55, -0.30, 0.00, 0.35, -0.60, 0.50, -0.10, 0.25,
    -0.50, 0.40, -0.20, 0.60, -0.35, 0.10, 0.45, -0.45, 0.20, -0.15,
    0.55, -0.25, 0.30, -0.55, 0.05, 0.50, -0.40, 0.35, -0.10, 0.15,
    0.25, -0.40, 0.55, -0.15, 0.35, -0.55, 0.10,
    -0.30, 0.50, -0.60, 0.20, 0.40, -0.20, 0.05, 0.60,
    0.35, -0.25, 0.60, 0.10, -0.50, 0.45, -0.10, 0.70, 0.20,
    -0.35, 0.55, -0.60, 0.30, 0.00, -0.80,
    -0.15, 0.30, -0.40, 0.45, 0.05, -0.25, 0.50, -0.05, 0.20, -0.45,
    0.35, -0.10, 0.15, 0.55, -0.30, 0.00, 0.40, -0.50, 0.25, -0.20,
    0.10, 0.45, -0.35, 0.30, -0.05, 0.50, -0.45, 0.15, 0.35, -0.15,
    0.35, -0.20, 0.05, -0.50, 0.45, 0.15, -0.35, 0.55, -0.10, 0.25,
    -0.45, 0.40, 0.00, -0.25, 0.50, -0.55, 0.20, -0.05, 0.35, -0.40,
    0.10, 0.55, -0.30, 0.15, -0.50, 0.45, -0.15, 0.30, -0.35, 0.05,
    0.50, -0.20, 0.25, -0.45, 0.40, 0.00, -0.30, 0.55, -0.10, 0.20,
    -0.55, 0.35, 0.10, -0.25, 0.45, -0.40, 0.15, -0.05, 0.50, -0.30,
    0.25, -0.50, 0.40, 0.05, -0.20, 0.30, -0.45, 0.55, -0.15, 0.10,
    -0.35, 0.45, 0.00, -0.55, 0.35, -0.10, 0.20, -0.40, 0.50, -0.25,
    -0.30, 0.40, 0.05, -0.45, 0.55, -0.15, 0.25, -0.50, 0.35, 0.00,
    0.50, -0.25, 0.15, -0.40, 0.45, -0.05, 0.30, -0.55, 0.20, 0.55,
    -0.35, 0.10, 0.40, -0.20, 0.50, -0.45, 0.05, 0.35, -0.30, 0.25,
    -0.10, 0.45, -0.50, 0.15, 0.55, -0.25, 0.00, 0.40, -0.40, 0.20,
    0.50, -0.15, 0.30, -0.55, 0.10, 0.45, -0.35, 0.25, -0.05, 0.55,
    -0.45, 0.35, -0.20, 0.05, 0.50, -0.30, 0.15, -0.50, 0.40, -0.10,
    0.25, -0.40, 0.55, 0.00, -0.25, 0.35, -0.55, 0.45, 0.10, -0.15,
    0.30, -0.45, 0.10, 0.55, -0.20, 0.40, -0.55,
    0.15, -0.35, 0.50, -0.10, 0.35, -0.50, 0.25, 0.05,
    0.45, -0.15, 0.60, 0.20, -0.40, 0.50, -0.05, 0.70, 0.30,
    -0.25, 0.40, -0.60, 0.15, 0.85, -0.45,
]
core_gr_ra = [
    0.30, -1.00, -0.05, -0.70, 0.65, -0.40, 0.45, -1.15, 0.10, -0.55,
    0.60, -0.85, -0.15, 0.50, -1.20, 0.20, -0.45, 0.75, -0.90, 0.00,
    -0.75, 0.80, -1.05, 0.15, -0.25, -0.90, 0.55, -0.60, 0.30, -1.10,
    -0.10, 0.45, -0.70, -0.35, 0.10, -0.95,
    0.80, -0.75, 0.45, 1.05, -0.30, 0.25, -0.85, 0.70, -0.10, 0.95,
    -0.55, 0.50, 0.05, 1.10, -0.65, 0.35, 0.90, -0.40, 0.20, -0.80,
    0.65, -0.20, 1.00, -0.50, 0.30, 0.85, -0.90, 0.55, -0.05, 0.75,
    1.05, -0.60, 0.40, -0.25, 0.95, 0.15, -0.70, 0.60, -0.35, 1.10,
    -0.45, 0.30, 0.90, -0.85, 0.50, 0.00, 0.80, -0.55, 0.25, 1.00,
    -0.20, 0.70, -0.75, 0.45, 0.05, 1.05, -0.40, 0.35, -0.65, 0.65,
    0.20, -0.80, 0.75, -0.10, 0.95, -0.35, 0.40, -0.60, 1.10, -0.05,
    -0.50, 0.55, -0.85, 0.85, 0.10, -0.30, 1.00, -0.15, 0.60, -0.70,
    0.30, 1.05, 0.10, 0.75, -0.40, 1.15, 0.25, 0.90, -0.20, 0.60,
    1.20, -0.10, 0.95, -0.45, 0.40, 0.85, -0.30, 1.10, 0.05, 0.65,
    -0.55, 0.80, 0.20, 1.05, -0.25, 0.50, 1.15, -0.40, 0.55, -0.05,
    0.90, -0.60, 0.70, 0.00, 1.00, -0.35, 0.35, 1.10, -0.15, 0.75,
    -0.85, 0.15, -0.65, 0.80, -0.20, 0.50, -1.00, 0.30, -0.50, 0.70,
    -0.75, -0.10, 0.60, -1.05, 0.35, -0.35, 0.85, -0.60, 0.15, -0.90,
    0.45, -0.40, 0.70, -1.10, 0.05, -0.70, 0.55, -0.20, -0.95, 0.30,
    0.80, -0.55, 0.00, -0.80, 0.65, -0.30, 0.90, -0.15, 0.40, -0.85,
    0.90, 0.35, 1.10, 0.55, 0.15, 0.80, 1.20,
    0.75, 0.20, 0.95, 1.15, 0.40, 0.65, 0.05, 0.85,
    -0.95, -0.20, -0.55, -1.15, 0.30, -0.75, -0.05, -1.05, 0.15,
    -0.40, -0.85, 0.00, -0.60, 0.45, -1.20,
    0.20, -0.95, -0.10, -0.55, 0.60, -0.80, 0.10, 0.45, -1.05, -0.20,
    -0.65, 0.55, -0.40, 0.35, -0.90, 0.05, -0.30, 0.70, -0.75, 0.15,
    -1.00, -0.15, 0.40, -0.50, 0.50, -0.85, 0.00, -0.60, 0.65, -0.35,
    -0.45, 0.80, -0.10, 0.55, -0.70, 0.25, 0.70, -0.30, 0.90, 0.05,
    0.45, -0.55, 0.85, -0.20, 0.20, -0.65, 0.60, -0.05, 0.75, -0.40,
    0.35, -0.60, 0.65, 0.00, 0.90, -0.25, 0.50, -0.50, 0.15, 0.80,
    -0.35, 0.40, -0.70, 0.70, -0.10, 0.85, -0.45, 0.25, -0.60, 0.55,
    0.10, -0.30, 0.75, -0.15, 0.90, -0.50, 0.30, -0.65, 0.60, 0.00,
    0.80, -0.25, 0.45, -0.55, 0.65, 0.05, 0.85, -0.40, 0.35, -0.70,
    0.70, -0.05, 0.55, -0.60, 0.20, 0.75, -0.20, 0.90, -0.35, 0.40,
    0.90, 0.15, 0.60, -0.30, 1.00, 0.35, 0.75, -0.10, 1.10, 0.20,
    0.55, -0.40, 0.85, 0.05, 0.95, -0.20, 0.65, 0.25, 1.05, 0.40,
    -0.15, 0.80, -0.30, 0.50, 0.10, 0.90, -0.25, 0.70, 0.00, 1.00,
    0.30, 0.60, 0.15, 0.85, -0.05,
    -0.35, 0.65, -0.70, 0.10, 0.50,
    -0.85, 0.25, -0.45, 0.70, -0.20, 0.35, -0.95, 0.55, -0.55, 0.05,
    0.75, -0.40, 0.15, -0.80, 0.60, -0.10, 0.40, -0.65, 0.85, -0.30,
    0.20, -0.90, 0.45, -0.15, 0.65, -0.50, 0.30, -0.75, 0.55, 0.00,
    0.85, 0.25, 1.15, 0.50, 0.95, 0.10, 0.70,
    1.05, 0.35, 0.80, 0.00, 1.20, 0.55, 0.90, 0.30,
    -0.70, -0.10, -1.00, -0.40, 0.20, -0.85, -0.25, -1.20, -0.55,
    0.10, -0.90, -0.30, -0.65, 0.35, -1.10,
]
core_gr_dec = [
    0.40, 0.05, 0.75, 0.50, -0.15, 0.85, 0.20, 0.60, -0.05, 0.95,
    0.15, 0.70, 0.35, -0.20, 0.80, 0.45, 0.00, 0.55, 0.90, 0.25,
    0.65, -0.10, 1.00, 0.40, 0.10, 0.75, 0.30, 0.85, -0.25, 0.50,
    0.60, 0.05, 0.45, 0.80, 0.20, 0.35,
    -0.30, 0.35, -0.65, 0.00, 0.50, -0.45, 0.15, -0.15, 0.40, -0.70,
    0.20, -0.25, 0.55, -0.55, -0.05, 0.30, -0.35, 0.45, -0.60, 0.10,
    -0.20, 0.25, -0.75, 0.05, 0.40, -0.40, -0.10, 0.50, -0.50, 0.15,
    -0.65, 0.35, 0.00, -0.30, 0.55, -0.55, 0.20, -0.15, 0.30, -0.70,
    0.10, -0.45, 0.45, -0.10, -0.60, 0.25, -0.25, 0.50, -0.35, 0.00,
    0.35, -0.65, 0.15, -0.20, 0.40, -0.50, 0.05, 0.55, -0.40, -0.05,
    -0.55, 0.25, -0.30, 0.45, -0.10, -0.70, 0.30, -0.15, 0.20, -0.45,
    0.05, -0.35, 0.40, -0.50, -0.05, 0.25, -0.65, 0.10, 0.50, -0.20,
    0.40, -0.10, 0.65, 0.15, 0.85, -0.20, 0.50, 0.25, 0.75, 0.00,
    0.90, 0.10, 0.35, 0.70, -0.25, 0.55, 0.05, 0.80, 0.20, 0.45,
    -0.15, 0.95, 0.05, 0.60, 0.30, -0.20, 0.75, 0.15, 0.85, -0.05,
    0.50, 0.25, 0.90, -0.15, 0.65, 0.00, 0.40, 0.80, -0.10, 0.55,
    -0.20, 0.35, -0.40, 0.60, 0.00, -0.55, 0.25, -0.25, 0.45, -0.10,
    0.10, -0.45, 0.50, -0.35, -0.05, 0.30, -0.60, 0.45, -0.15, 0.20,
    -0.55, 0.35, -0.25, 0.55, -0.40, 0.05, 0.40, -0.50, 0.15, -0.20,
    0.50, -0.30, 0.25, -0.60, 0.00, 0.45, -0.45, 0.70, 0.30, -0.05,
    -0.10, -0.75, 0.20, -0.50, 0.05, -0.85, -0.25,
    -0.60, 0.15, -0.95, -0.15, 0.10, -0.55, -0.30, 0.35,
    0.75, 0.15, 1.00, 0.45, -0.10, 0.85, 0.30, 1.10, 0.55,
    0.05, 0.95, -0.20, 0.70, 0.40, -0.55,
    0.15, 0.60, -0.10, 0.75, 0.35, 0.05, 0.80, 0.25, 0.50, -0.15,
    0.65, 0.20, 0.45, 0.85, 0.00, 0.30, 0.70, -0.20, 0.55, 0.10,
    0.40, 0.75, -0.05, 0.60, 0.25, 0.80, -0.15, 0.45, 0.65, 0.15,
    0.25, -0.30, -0.05, -0.60, 0.35, 0.05, -0.45, 0.45, -0.20, 0.15,
    -0.55, 0.30, -0.10, -0.35, 0.40, -0.65, 0.10, -0.15, 0.25, -0.50,
    0.00, 0.45, -0.40, 0.05, -0.60, 0.35, -0.25, 0.20, -0.45, -0.05,
    0.40, -0.30, 0.15, -0.55, 0.30, -0.10, -0.40, 0.45, -0.20, 0.10,
    -0.65, 0.25, 0.00, -0.35, 0.35, -0.50, 0.05, -0.15, 0.40, -0.40,
    0.15, -0.60, 0.30, -0.05, -0.30, 0.20, -0.55, 0.45, -0.25, 0.00,
    -0.45, 0.35, -0.10, -0.65, 0.25, -0.20, 0.10, -0.50, 0.40, -0.35,
    0.00, 0.70, 0.35, -0.15, 0.85, 0.15, 0.55, -0.20, 0.65, 0.30,
    0.80, 0.05, 0.45, -0.10, 0.75, 0.25, 0.60, -0.25, 0.50, 0.85,
    -0.05, 0.40, 0.70, 0.10, 0.80, -0.15, 0.35, 0.65, 0.00, 0.55,
    0.20, 0.75, -0.20, 0.45, 0.85,
    -0.25, 0.00, 0.40, -0.40, 0.20,
    0.50, -0.15, 0.30, -0.55, 0.10, 0.45, -0.35, 0.25, -0.05, 0.55,
    -0.45, 0.35, -0.20, 0.05, 0.50, -0.30, 0.15, -0.50, 0.40, -0.10,
    0.25, -0.40, 0.55, 0.00, -0.25, 0.35, -0.55, 0.45, 0.10, -0.15,
    0.00, -0.75, -0.20, 0.25, -0.50, 0.10, -0.85,
    -0.15, -0.65, 0.20, -0.40, 0.05, -0.80, -0.05, -0.25,
    0.85, 0.25, 1.00, 0.60, 0.00, 0.90, 0.35, 1.10, 0.70,
    0.15, 0.80, -0.20, 0.55, 1.25, -0.05,
]

year_ticks = [2014, 2015, 2016, 2017, 2018]
perihelion_t = 2015.77
jupiter_au = 5.2
oc_band = 0.45

# ---------------- figure ----------------
sns.set_theme(style="white")
plt.rcParams["font.family"] = ["DejaVu Sans"]
plt.rcParams["font.weight"] = "bold"

dist = pd.DataFrame({"t": dist_t, "geo": geo_d, "helio": helio_r})
geo_late = pd.DataFrame({"t": geo_t_late, "geo": geo_d_late})
helio_late = pd.DataFrame({"t": helio_t_late, "helio": helio_r_late})
oc = pd.concat([
    pd.DataFrame({"t": obs_t, "ng_ra": ng_ra, "ng_dec": ng_dec,
                  "gr_ra": gr_ra, "gr_dec": gr_dec}),
    pd.DataFrame({"t": core_t, "ng_ra": core_ng_ra, "ng_dec": core_ng_dec,
                  "gr_ra": core_gr_ra, "gr_dec": core_gr_dec}),
], ignore_index=True)

fig = plt.figure(figsize=(8.3, 8.3), dpi=100)
ax_d = fig.add_axes([0.1084, 0.7157, 0.8398, 0.2301])
ax_ng = fig.add_axes([0.1084, 0.4175, 0.8398, 0.2235])
ax_gr = fig.add_axes([0.1084, 0.1120, 0.8398, 0.2241])

mono = "DejaVu Sans Mono"
dots = (0, (1.2, 2.2))


def style_axes(ax, bottom_labels):
    ax.set_xlim(2013.742, 2018.653)
    ax.xaxis.set_major_locator(FixedLocator(year_ticks))
    ax.xaxis.set_minor_locator(MultipleLocator(0.2))
    ax.xaxis.set_major_formatter(FuncFormatter(lambda v, p: f"{int(round(v))}"))
    ax.tick_params(which="both", direction="in", top=True, bottom=True,
                   left=True, right=True, width=1.5, color="black")
    ax.tick_params(which="major", length=9)
    ax.tick_params(which="minor", length=4.5)
    ax.tick_params(axis="x", labeltop=True, labelbottom=bottom_labels,
                   labelsize=12.5, pad=5)
    ax.tick_params(axis="y", labelsize=12.5, pad=8)
    for sp in ax.spines.values():
        sp.set_linewidth(1.8)
        sp.set_color("black")
    ax.axvline(perihelion_t, color="black", ls=dots, lw=1.0, zorder=5)
    ax.set_xlabel("")
    ax.yaxis.set_label_coords(-0.064, 0.5)


# distance panel
for frame in (dist, geo_late):
    sns.scatterplot(data=frame, x="t", y="geo", ax=ax_d, color="#00ff00", s=38,
                    linewidth=0, zorder=2)
for frame in (dist, helio_late):
    sns.scatterplot(data=frame, x="t", y="helio", ax=ax_d, color="#ff0000", s=38,
                    linewidth=0, zorder=3)
ax_d.axhline(jupiter_au, color="black", ls=dots, lw=1.0, zorder=1)
ax_d.set_ylim(4.18, 9.2)
ax_d.yaxis.set_major_locator(MultipleLocator(1))
ax_d.yaxis.set_minor_locator(MultipleLocator(0.2))
style_axes(ax_d, False)
ax_d.set_ylabel("distance [au]", fontsize=12.5, fontweight="bold")
ax_d.text(2016.046, 8.5, "C/2013 V4 Catalina", family=mono, fontweight="normal",
          fontsize=13.5, ha="left", va="center")

# O-C panels
even_only = FuncFormatter(
    lambda v, p: f"{int(round(v))}".replace("-", "\u2212") if int(round(v)) % 2 == 0 else "")
panels = [(ax_ng, "ng_ra", "ng_dec", "C/2013 V4 Catalina (NG\u2212CO; weighted)"),
          (ax_gr, "gr_ra", "gr_dec", "C/2013 V4 Catalina (GR; weighted)")]
for ax, ra_col, dec_col, title in panels:
    ax.axhspan(-oc_band, oc_band, color="#e5e5e5", lw=0, zorder=0)
    sns.scatterplot(data=oc, x="t", y=ra_col, ax=ax, color="#ff00ff", s=32,
                    linewidth=0, zorder=2)
    sns.scatterplot(data=oc, x="t", y=dec_col, ax=ax, marker="o", s=24,
                    facecolor="none", edgecolor="#0000ff", linewidth=1.3, zorder=3)
    ax.axhline(0, color="black", ls=dots, lw=1.1, zorder=5)
    ax.set_ylim(-3, 3)
    ax.yaxis.set_major_locator(MultipleLocator(1))
    ax.yaxis.set_minor_locator(MultipleLocator(0.5))
    ax.yaxis.set_major_formatter(even_only)
    style_axes(ax, True)
    ax.set_ylabel("O\u2212C [arcsec]", fontsize=12.5, fontweight="bold")
    ax.text(2017.984, -2.29, title, family=mono, fontweight="normal",
            fontsize=13.5, ha="right", va="center")

fig.text(438 / 830, 1 - 780 / 830, "D a t e [yr]", family=mono, fontweight="bold",
         fontsize=13, ha="center", va="center")

fig.savefig("out.png", dpi=100)
